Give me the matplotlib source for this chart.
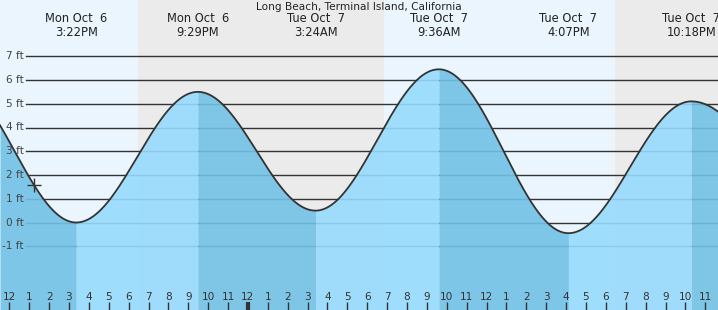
import numpy as np
import matplotlib
matplotlib.use("Agg")
import matplotlib.pyplot as plt

# ---- data (hours measured from 12:00 PM Mon Oct 6) ----
title = "Long Beach, Terminal Island, California"
extreme_times = [-2.83, 3.367, 9.483, 15.40, 21.60, 28.117, 34.30, 40.67]
extreme_heights = [6.0, 0.0, 5.5, 0.5, 6.45, -0.45, 5.1, 1.0]
label_idx = [1, 2, 3, 4, 5, 6]
label_days = ["Mon Oct  6", "Mon Oct  6", "Tue Oct  7", "Tue Oct  7", "Tue Oct  7", "Tue Oct  7"]
label_times = ["3:22PM", "9:29PM", "3:24AM", "9:36AM", "4:07PM", "10:18PM"]
sun_events = [6.47, 18.84, 30.46]  # sunset, sunrise, sunset
y_ticks = [-1, 0, 1, 2, 3, 4, 5, 6, 7]
hour_ticks = list(range(0, 36))
hour_labels = ["12", "1", "2", "3", "4", "5", "6", "7", "8", "9", "10", "11"] * 3
now_time = 1.24
now_height = 1.58

# ---- layout ----
W, H = 718, 310
fig = plt.figure(figsize=(W / 100, H / 100), dpi=100)
ax = fig.add_axes([0, 0, 1, 1])
x0_px, px_per_h = 9.3, 19.886
y0_px, px_per_ft = 222.5, 23.75
xmin, xmax = -x0_px / px_per_h, (W - x0_px) / px_per_h
ymin, ymax = -(H - y0_px) / px_per_ft, y0_px / px_per_ft
ax.set_xlim(xmin, xmax)
ax.set_ylim(ymin, ymax)
ax.axis("off")

day_c = "#ebf5fe"
night_c = "#ebebeb"
rise_c = "#97dbfd"
fall_c = "#72c1e6"
ink = "#333333"

# background day/night
bounds = [xmin] + sun_events + [xmax]
for i in range(len(bounds) - 1):
    ax.axvspan(bounds[i], bounds[i + 1], color=day_c if i % 2 == 0 else night_c, lw=0, zorder=0)

# grid lines
for yv in y_ticks:
    ax.axhline(yv, xmin=26 / W, xmax=1, color=ink, lw=1.0, zorder=1)
    ax.text(24 / W, yv, f"{yv} ft", transform=ax.get_yaxis_transform(),
            ha="right", va="center", fontsize=7.6, color="#444444", zorder=5)

# tide curve (cosine interpolation between extremes)
t = np.linspace(xmin, xmax, 2000)
et = np.array(extreme_times)
eh = np.array(extreme_heights)
t = np.unique(np.concatenate([t, et[(et > xmin) & (et < xmax)]]))
h = np.empty_like(t)
for k, tv in enumerate(t):
    i = np.searchsorted(et, tv) - 1
    i = min(max(i, 0), len(et) - 2)
    frac = (1 + np.cos(np.pi * (tv - et[i]) / (et[i + 1] - et[i]))) / 2
    h[k] = eh[i + 1] + (eh[i] - eh[i + 1]) * frac

for i in range(len(et) - 1):
    m = (t >= et[i]) & (t <= et[i + 1])
    if not m.any():
        continue
    col = fall_c if eh[i + 1] < eh[i] else rise_c
    ax.fill_between(t[m], ymin, h[m], color=col, alpha=0.9, lw=0, zorder=2, antialiased=False)
ax.plot(t, h, color=ink, lw=1.3, zorder=3)

# current marker
ax.plot([now_time], [now_height], marker="+", ms=10, mew=1.0, color=ink, zorder=4)

# header labels
for j, i in enumerate(label_idx):
    ax.text(extreme_times[i], 1 - 19 / H, label_days[j], transform=ax.get_xaxis_transform(),
            ha="center", va="center", fontsize=8.3, color="#222222")
    ax.text(extreme_times[i], 1 - 32 / H, label_times[j], transform=ax.get_xaxis_transform(),
            ha="center", va="center", fontsize=8.3, color="#222222")
ax.text(0.5, 1 - 7 / H, title, transform=ax.transAxes, ha="center", va="center",
        fontsize=7.6, color="#222222")

# hour ticks
for hv, lab in zip(hour_ticks, hour_labels):
    lw = 3 if hv == 12 else 1
    ax.plot([hv, hv], [0, 8 / H], transform=ax.get_xaxis_transform(), color=ink, lw=lw, zorder=5,
            solid_capstyle="butt")
    ax.text(hv, 13 / H, lab, transform=ax.get_xaxis_transform(), ha="center", va="center",
            fontsize=7.6, color=ink, zorder=5)

fig.savefig("out.png", dpi=100)
